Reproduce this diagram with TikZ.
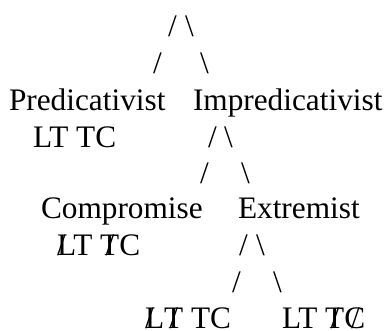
\documentclass[tikz,border=0pt]{standalone}
\usepackage{fontspec}
\setmainfont{Liberation Serif}
\newcommand\ovs[2]{\makebox[0pt][l]{\hspace*{#2em}/}#1}
\tikzset{
  txt/.style={anchor=base west,inner sep=0pt,outer sep=0pt,font=\fontsize{31.3bp}{36bp}\selectfont},
}
\begin{document}
\begin{tikzpicture}[x=1bp,y=-1bp]
\useasboundingbox (0,0) rectangle (386,331);
% line 1
\node[txt] (s1a) at (168,36) {/};
\node[txt] (s1b) at (185,36) {\textbackslash};
% line 2
\node[txt] (s2a) at (153,73) {/};
\node[txt] (s2b) at (200,73) {\textbackslash};
% line 3
\node[txt] (pred) at (9,110) {Predicativist};
\node[txt] (impred) at (193,110) {Impredicativist};
% line 4
\node[txt] (ltc1) at (33,147) {LT TC};
\node[txt] (s4a) at (208,147) {/};
\node[txt] (s4b) at (224,147) {\textbackslash};
% line 5
\node[txt] (s5a) at (200,183) {/};
\node[txt] (s5b) at (241,183) {\textbackslash};
% line 6
\node[txt] (comp) at (41,218) {Compromise};
\node[txt] (extr) at (238,218) {Extremist};
% line 7
\node[txt] (ltc2) at (57,255) {\ovs{L}{0.0}T \ovs{T}{0.17}C};
\node[txt] (s7a) at (239,255) {/};
\node[txt] (s7b) at (256,255) {\textbackslash};
% line 8
\node[txt] (s8a) at (232,292) {/};
\node[txt] (s8b) at (273,292) {\textbackslash};
% line 9
\node[txt] (ltc3) at (145,328) {\ovs{L}{0.0}\ovs{T}{0.17} TC};
\node[txt] (ltc4) at (282,328) {LT \ovs{T}{0.17}\ovs{C}{0.22}};
\end{tikzpicture}
\end{document}
